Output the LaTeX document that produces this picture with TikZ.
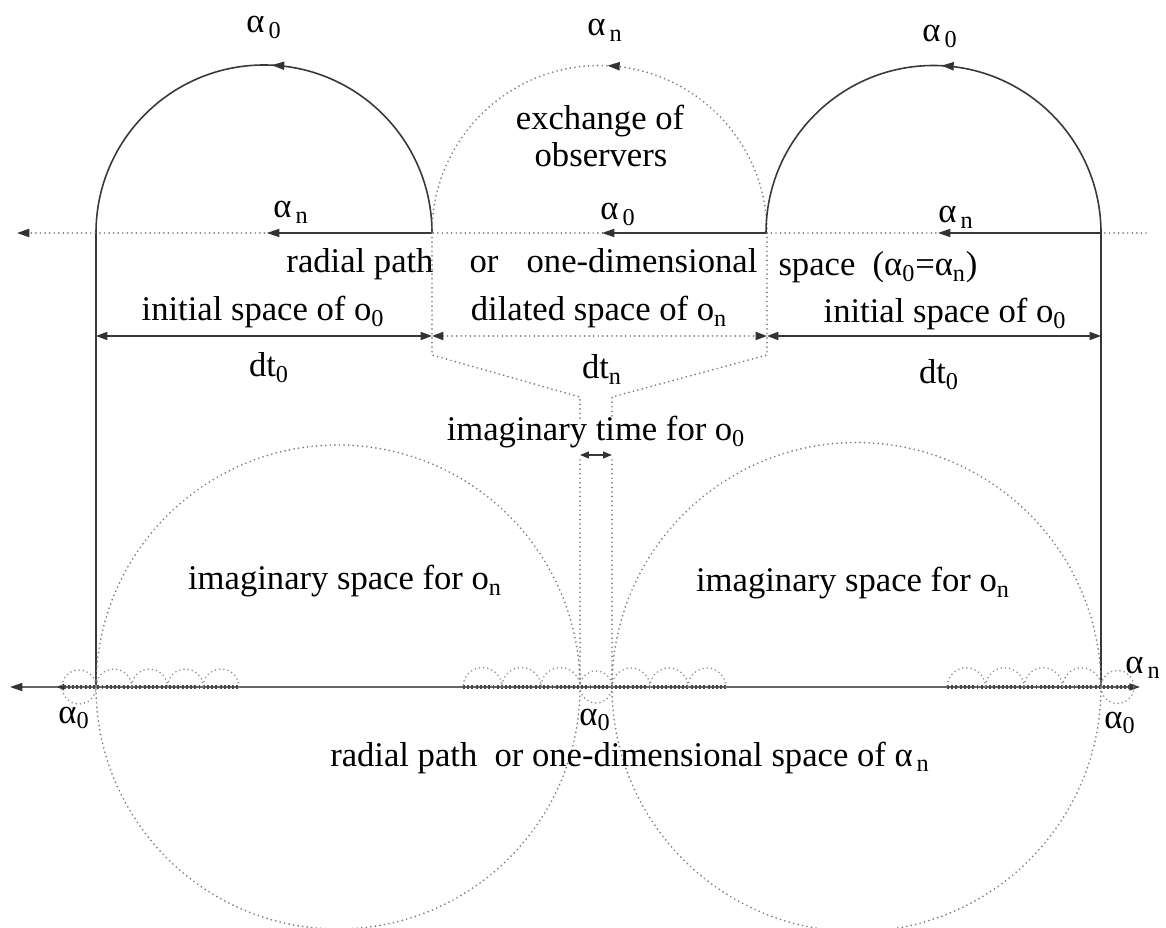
\documentclass[tikz,border=0pt]{standalone}
\usepackage{fontspec}
\setmainfont{Liberation Serif}
\usetikzlibrary{arrows.meta,decorations.markings}
\newcommand{\sbs}[1]{\textsubscript{#1}}
\newcommand{\agap}[1]{α\hspace{0.12em}\textsubscript{#1}}
\begin{document}
\begin{tikzpicture}[x=0.02cm,y=-0.02cm,line join=round,
  solidln/.style={draw=black!78, line width=0.9pt},
  dotln/.style={draw=black!50, line width=1.1pt, line cap=round, dash pattern=on 0pt off 2.6pt},
  smallc/.style={draw=black!45, line width=1pt, line cap=round, dash pattern=on 0pt off 2.4pt},
  axisdots/.style={draw=black!72, line width=2.4pt, dash pattern=on 1.1pt off 1.3pt},
  tipL/.style={-{Triangle[length=7pt,width=4.6pt,color=black!80]}},
  dimarrow/.style={{Triangle[length=6.5pt,width=4.6pt,color=black!80]}-{Triangle[length=6.5pt,width=4.6pt,color=black!80]}},
  smalldim/.style={{Triangle[length=5pt,width=3.8pt,color=black!80]}-{Triangle[length=5pt,width=3.8pt,color=black!80]}},
  midtip/.style={postaction={decorate},decoration={markings,mark=at position 0.485 with {\arrow{Triangle[length=7pt,width=4.6pt,color=black!80]}}}},
  lbl/.style={font=\fontsize{19.7}{23.6}\selectfont, inner sep=0pt, anchor=base}]
\useasboundingbox (0,0) rectangle (1166,928);

% main points
\coordinate (L) at (96,233);
\coordinate (B) at (432,233);
\coordinate (C) at (767,233);
\coordinate (R) at (1101,233);
\coordinate (Lc) at (267,233);
\coordinate (Bc) at (602,233);
\coordinate (Cc) at (938,233);
\coordinate (TL) at (17,233);
\coordinate (TR) at (1146,233);
\coordinate (LA) at (96,687);
\coordinate (RA) at (1101,687);

% arches
\draw[solidln, midtip] (B) arc[start angle=0, end angle=-180, radius=168];
\draw[dotln, midtip] (C) arc[start angle=0, end angle=-180, radius=167.5];
\draw[solidln, midtip] (R) arc[start angle=0, end angle=-180, radius=167.5];

% top horizontal line
\draw[dotln, tipL] (TR) -- (TL);
\draw[solidln, tipL] (B) -- (Lc);
\draw[solidln, tipL] (C) -- (Bc);
\draw[solidln, tipL] (R) -- (Cc);

% outer verticals
\draw[solidln] (L) -- (LA);
\draw[solidln] (R) -- (RA);

% funnel dotted lines
\coordinate (Bk1) at (432,355);
\coordinate (Bk2) at (580,397);
\coordinate (Bk3) at (580,420);
\coordinate (Ck1) at (767,355);
\coordinate (Ck2) at (612,397);
\coordinate (Ck3) at (612,420);
\draw[dotln] (B) -- (Bk1) -- (Bk2) -- (Bk3);
\draw[dotln] (C) -- (Ck1) -- (Ck2) -- (Ck3);
\coordinate (V1t) at (580,460);
\coordinate (V1b) at (580,687);
\coordinate (V2t) at (612,460);
\coordinate (V2b) at (612,687);
\draw[dotln] (V1t) -- (V1b);
\draw[dotln] (V2t) -- (V2b);

% dimension lines
\coordinate (DL) at (96,336);
\coordinate (DB) at (432,336);
\coordinate (DC) at (767,336);
\coordinate (DR) at (1101,336);
\draw[solidln, dimarrow] (DL) -- (DB);
\draw[dotln, dimarrow] (DB) -- (DC);
\draw[solidln, dimarrow] (DC) -- (DR);
\coordinate (IA) at (580,455);
\coordinate (IB) at (612,455);
\draw[solidln, smalldim] (IA) -- (IB);

% big circles
\coordinate (CL) at (338,687);
\coordinate (CR) at (856.5,687);
\draw[dotln] (CL) circle[radius=242];
\draw[dotln] (CR) circle[radius=244.5];

% bottom axis
\coordinate (AxL) at (10,687);
\coordinate (AxR) at (1140,687);
\draw[draw=black!60, line width=0.7pt, {Triangle[length=7pt,width=4.6pt,color=black!80]}-{Triangle[length=6pt,width=4pt,color=black!80]}] (AxL) -- (AxR);
\draw[axisdots, {Triangle[length=4pt,width=3.5pt,color=black!80]}-] (57,687) -- (239,687);
\draw[axisdots] (463,687) -- (726,687);
\draw[axisdots] (947,687) -- (1136,687);

% small circles
\draw[smallc] (79,687) circle[radius=17];
\draw[smallc] (596,687) circle[radius=16];
\draw[smallc] (1117.5,687) circle[radius=16.5];
\foreach \c/\r in {113.9/17.9,149.6/17.9,185.4/17.9,221.1/17.9,
                   482.5/19.5,521.5/19.5,560.5/19.5,
                   631/19,669/19,707/19,
                   966.25/19.25,1004.75/19.25,1043.25/19.25,1081.75/19.25}
  \draw[smallc] (\c+\r,687) arc[start angle=0, end angle=-180, radius=\r];

% labels
\node[lbl] (a1) at (264,33) {\agap{0}};
\node[lbl] (a2) at (605,36) {\agap{n}};
\node[lbl] (a3) at (940,42) {\agap{0}};
\node[lbl] (a4) at (291,218) {\agap{n}};
\node[lbl] (a5) at (618,220) {\agap{0}};
\node[lbl] (a6) at (956,223) {\agap{n}};
\node[lbl] (ex1) at (600,130) {exchange of};
\node[lbl] (ex2) at (601,167) {observers};
\node[lbl] (r1) at (360,273) {radial path};
\node[lbl] (r2) at (484,273) {or};
\node[lbl] (r3) at (642,273) {one-dimensional};
\node[lbl] (r4) at (878,276) {space\ \ (α\sbs{0}=α\sbs{n})};
\node[lbl] (is1) at (263,321) {initial space of o\sbs{0}};
\node[lbl] (ds) at (599,321) {dilated space of o\sbs{n}};
\node[lbl] (is2) at (945,323) {initial space of o\sbs{0}};
\node[lbl] (d1) at (269,377) {dt\sbs{0}};
\node[lbl] (d2) at (602,379) {dt\sbs{n}};
\node[lbl] (d3) at (939,384) {dt\sbs{0}};
\node[lbl] (it) at (596,441) {imaginary time for o\sbs{0}};
\node[lbl] (isp1) at (345,590) {imaginary space for o\sbs{n}};
\node[lbl] (isp2) at (853,592) {imaginary space for o\sbs{n}};
\node[lbl] (b1) at (74,723) {α\sbs{0}};
\node[lbl] (b2) at (595,725) {α\sbs{0}};
\node[lbl] (b3) at (1120,728) {α\sbs{0}};
\node[lbl] (b4) at (1143,673) {\agap{n}};
\node[lbl] (rp) at (630,766) {radial path\ \ or one-dimensional space of \agap{n}};
\end{tikzpicture}
\end{document}
